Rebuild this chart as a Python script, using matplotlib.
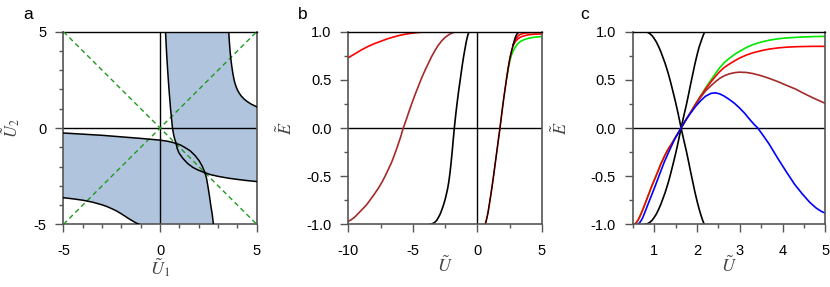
import matplotlib
matplotlib.use("Agg")
import matplotlib.pyplot as plt
from matplotlib.ticker import MultipleLocator, FormatStrFormatter

plt.rcParams['font.family'] = ['Liberation Sans', 'DejaVu Sans']
plt.rcParams['mathtext.fontset'] = 'stix'
plt.rcParams['axes.unicode_minus'] = False

# ---- panel a: boundary curves in the (U1, U2) plane ----
a_top_x = [0.28, 0.33, 0.39, 0.46, 0.54, 0.64, 0.71, 0.77, 0.83]
a_top_y = [5.0, 4.0, 3.0, 2.0, 1.0, 0.0, -0.40, -0.62, -0.80]
b_left_x = [-5.0, -4.0, -3.0, -2.0, -1.0, 0.0, 0.40, 0.62, 0.83]
b_left_y = [-0.26, -0.32, -0.38, -0.46, -0.54, -0.63, -0.69, -0.74, -0.80]
arc_up_x = [0.83, 1.05, 1.30, 1.55, 1.80, 2.02, 2.18, 2.32]
arc_up_y = [-0.80, -0.88, -1.02, -1.18, -1.42, -1.70, -1.98, -2.32]
arc_lo_x = [0.83, 0.88, 0.98, 1.18, 1.42, 1.70, 1.98, 2.32]
arc_lo_y = [-0.80, -1.05, -1.30, -1.58, -1.84, -2.05, -2.19, -2.32]
a_bot_x = [2.32, 2.40, 2.47, 2.55, 2.62, 2.70, 2.76]
a_bot_y = [-2.32, -2.60, -3.0, -3.5, -4.0, -4.5, -5.0]
b_right_x = [2.32, 2.60, 3.0, 3.5, 4.0, 4.5, 5.0]
b_right_y = [-2.32, -2.42, -2.51, -2.60, -2.67, -2.73, -2.78]
c3_x = [3.55, 3.57, 3.59, 3.62, 3.66, 3.71, 3.77, 3.84, 3.92, 4.0, 4.1, 4.2,
        4.35, 4.5, 4.62, 4.75, 4.88, 5.0]
c3_y = [5.0, 4.7, 4.4, 4.0, 3.6, 3.2, 2.8, 2.45, 2.18, 1.98, 1.80, 1.66,
        1.50, 1.38, 1.30, 1.22, 1.16, 1.10]
c4_x = [-5.0, -4.5, -4.0, -3.5, -3.0, -2.75, -2.5, -2.25, -2.0, -1.8, -1.6,
        -1.45, -1.3, -1.18, -1.08]
c4_y = [-3.62, -3.68, -3.75, -3.85, -3.99, -4.08, -4.19, -4.31, -4.46, -4.59, -4.72,
        -4.81, -4.90, -4.96, -5.0]

# ---- panel b: E vs U ----
b_red_x = [-10.0, -9.5, -9.0, -8.5, -8.0, -7.5, -7.0, -6.5, -6.0, -5.5, -5.0, -4.5, -4.0, -3.5]
b_red_y = [0.73, 0.77, 0.81, 0.845, 0.875, 0.90, 0.925, 0.945, 0.963, 0.976, 0.986, 0.993,
           0.998, 1.0]
b_brown_x = [-10.0, -9.75, -9.5, -9.25, -8.96, -8.6, -8.3, -8.0, -7.67, -7.4, -7.15, -6.9,
             -6.64, -6.4, -6.2, -5.95, -5.74, -5.5, -5.3, -5.05, -4.83, -4.55, -4.3, -4.05,
             -3.8, -3.55, -3.3, -3.05, -2.76, -2.5, -2.2, -1.9, -1.6]
b_brown_y = [-0.97, -0.95, -0.925, -0.89, -0.85, -0.80, -0.745, -0.69, -0.625, -0.565, -0.50,
             -0.43, -0.355, -0.27, -0.195, -0.095, 0.0, 0.09, 0.17, 0.265, 0.345, 0.44, 0.525,
             0.60, 0.67, 0.74, 0.80, 0.855, 0.905, 0.94, 0.97, 0.99, 1.0]
b_blk_x = [-3.67, -3.5, -3.3, -3.15, -3.02, -2.88, -2.75, -2.62, -2.5, -2.4, -2.3, -2.21,
           -2.12, -2.03, -1.95, -1.87, -1.78, -1.67, -1.56, -1.45, -1.34, -1.24, -1.15,
           -1.05, -0.95, -0.87, -0.8, -0.72, -0.64]
b_blk_y = [-1.0, -0.995, -0.98, -0.96, -0.93, -0.895, -0.85, -0.80, -0.745, -0.69, -0.63,
           -0.56, -0.47, -0.36, -0.25, -0.13, 0.0, 0.14, 0.265, 0.38, 0.485, 0.58, 0.665,
           0.75, 0.825, 0.885, 0.93, 0.97, 1.0]
# right-hand bundle, shared lower part
rb_x = [0.60, 0.65, 0.70, 0.75, 0.80, 0.85, 0.95, 1.05, 1.15, 1.24, 1.37, 1.50, 1.63,
        1.76, 1.89, 2.02, 2.15, 2.28, 2.40, 2.53, 2.66, 2.79]
rb_y = [-1.0, -0.985, -0.96, -0.93, -0.90, -0.865, -0.78, -0.695, -0.605, -0.52, -0.39,
        -0.26, -0.13, 0.0, 0.14, 0.276, 0.40, 0.52, 0.625, 0.725, 0.80, 0.865]
rb_blk_x = [2.79, 2.87, 2.95, 3.03, 3.1, 3.2, 3.3]
rb_blk_y = [0.865, 0.905, 0.94, 0.965, 0.98, 0.993, 1.0]
rb_brown_x = [2.79, 2.92, 3.05, 3.17, 3.3, 3.5, 3.7, 4.0, 4.5, 5.0]
rb_brown_y = [0.865, 0.905, 0.938, 0.957, 0.97, 0.98, 0.986, 0.99, 0.993, 0.995]
rb_red_x = [2.79, 2.92, 3.05, 3.17, 3.3, 3.5, 3.7, 3.9, 4.1, 4.5, 5.0]
rb_red_y = [0.86, 0.89, 0.912, 0.928, 0.94, 0.952, 0.96, 0.966, 0.97, 0.975, 0.977]
rb_green_x = [2.28, 2.40, 2.53, 2.66, 2.79, 2.92, 3.05, 3.18, 3.31, 3.5, 3.7, 3.9, 4.08,
              4.3, 4.5, 4.75, 5.0]
rb_green_y = [0.52, 0.615, 0.70, 0.76, 0.80, 0.835, 0.86, 0.88, 0.895, 0.91, 0.92, 0.929,
              0.935, 0.94, 0.944, 0.947, 0.95]

# ---- panel c: E vs U ----
c_down_x = [0.78, 0.84, 0.9, 0.95, 1.0, 1.05, 1.1, 1.15, 1.2, 1.25, 1.3, 1.35, 1.4, 1.45,
            1.5, 1.56, 1.63, 1.69, 1.75, 1.8, 1.85, 1.9, 1.95, 2.0, 2.05, 2.09, 2.13, 2.17]
c_down_y = [1.0, 0.995, 0.98, 0.96, 0.93, 0.895, 0.85, 0.80, 0.74, 0.68, 0.61, 0.535, 0.45,
            0.36, 0.27, 0.15, 0.0, -0.12, -0.235, -0.34, -0.45, -0.555, -0.66, -0.755, -0.84,
            -0.9, -0.955, -1.0]
c_up_x = [0.78, 0.84, 0.9, 0.95, 1.0, 1.05, 1.1, 1.15, 1.2, 1.25, 1.3, 1.35, 1.4, 1.45,
          1.5, 1.56, 1.63, 1.69, 1.75, 1.8, 1.85, 1.9, 1.95, 2.0, 2.05, 2.1, 2.14, 2.18]
c_up_y = [-1.0, -0.995, -0.98, -0.96, -0.93, -0.895, -0.85, -0.80, -0.74, -0.68, -0.61,
          -0.535, -0.45, -0.36, -0.27, -0.15, 0.0, 0.12, 0.235, 0.34, 0.45, 0.555, 0.66,
          0.755, 0.84, 0.905, 0.955, 1.0]
c_low_x = [0.54, 0.58, 0.62, 0.66, 0.70, 0.76, 0.82, 0.88, 0.93, 1.0, 1.08, 1.16, 1.25,
           1.32, 1.40, 1.50, 1.63, 1.75, 1.86, 1.97, 2.09]
c_low_y = [-1.0, -0.985, -0.96, -0.925, -0.885, -0.82, -0.75, -0.68, -0.62, -0.545, -0.46,
           -0.37, -0.285, -0.225, -0.17, -0.095, 0.0, 0.09, 0.17, 0.25, 0.335]
c_green_x = [2.09, 2.2, 2.33, 2.43, 2.53, 2.64, 2.76, 2.88, 2.99, 3.15, 3.3, 3.5, 3.69,
             3.9, 4.08, 4.3, 4.47, 4.7, 5.0]
c_green_y = [0.335, 0.415, 0.50, 0.565, 0.625, 0.68, 0.725, 0.765, 0.795, 0.835, 0.865,
             0.893, 0.912, 0.927, 0.935, 0.941, 0.945, 0.949, 0.952]
c_red_x = [2.09, 2.2, 2.33, 2.43, 2.53, 2.64, 2.76, 2.88, 2.99, 3.15, 3.3, 3.5, 3.69,
           3.9, 4.08, 4.3, 4.47, 4.7, 5.0]
c_red_y = [0.33, 0.405, 0.48, 0.535, 0.585, 0.63, 0.665, 0.698, 0.725, 0.757, 0.78, 0.803,
           0.82, 0.832, 0.839, 0.844, 0.846, 0.848, 0.848]
c_brown_x = [1.97, 2.09, 2.2, 2.33, 2.43, 2.53, 2.64, 2.76, 2.88, 2.99, 3.15, 3.3, 3.5,
             3.69, 3.9, 4.08, 4.3, 4.47, 4.7, 5.0]
c_brown_y = [0.245, 0.32, 0.385, 0.44, 0.48, 0.515, 0.543, 0.563, 0.575, 0.58, 0.577,
             0.566, 0.543, 0.515, 0.48, 0.445, 0.405, 0.365, 0.315, 0.255]
c_blue_x = [0.62, 0.66, 0.70, 0.74, 0.78, 0.85, 0.93, 1.01, 1.12, 1.24, 1.35, 1.47, 1.63,
            1.75, 1.86, 1.97, 2.09, 2.2, 2.33, 2.43, 2.53, 2.64, 2.76, 2.88, 2.99, 3.11,
            3.23, 3.33, 3.42, 3.55, 3.69, 3.88, 4.08, 4.28, 4.47, 4.63, 4.78, 4.9, 5.0]
c_blue_y = [-1.0, -0.985, -0.96, -0.925, -0.88, -0.80, -0.71, -0.62, -0.49, -0.35, -0.24,
            -0.125, 0.0, 0.09, 0.16, 0.225, 0.285, 0.33, 0.36, 0.365, 0.355, 0.33, 0.295,
            0.255, 0.21, 0.155, 0.09, 0.04, 0.0, -0.08, -0.17, -0.31, -0.45, -0.585, -0.69,
            -0.77, -0.83, -0.865, -0.885]

RED = '#ff0000'
GREEN = '#00e600'
BLUE = '#0000ff'
BROWN = '#a52a2a'
SHADE = '#b0c4de'
DASH = '#1f9a1f'
SPINE = '#555555'
LBL = '#444444'


def style(ax):
    for s in ['left', 'bottom', 'right']:
        ax.spines[s].set_color(SPINE)
        ax.spines[s].set_linewidth(1.2)
    ax.spines['top'].set_color('black')
    ax.spines['top'].set_linewidth(1.0)
    ax.tick_params(which='major', direction='out', length=6, width=1,
                   color=SPINE, pad=6, labelsize=10.5)
    ax.tick_params(which='minor', direction='out', length=3, width=1, color=SPINE)
    ax.tick_params(axis='x', which='major', pad=8)


fig = plt.figure(figsize=(8.3, 2.87), dpi=100)
axa = fig.add_axes([0.0765, 0.2185, 0.2328, 0.671])
axb = fig.add_axes([0.4197, 0.2185, 0.2330, 0.671])
axc = fig.add_axes([0.7623, 0.2185, 0.2322, 0.671])

# panel a
lim = 5
axa.set_facecolor(SHADE)
axa.fill([-lim] + a_top_x + b_left_x[::-1], [lim] + a_top_y + b_left_y[::-1],
         color='white', lw=0, zorder=1)
axa.fill(a_bot_x + [lim] + b_right_x[::-1], a_bot_y + [-lim] + b_right_y[::-1],
         color='white', lw=0, zorder=1)
axa.fill(c3_x + [lim], c3_y + [lim], color='white', lw=0, zorder=1)
axa.fill(c4_x + [-lim], c4_y + [-lim], color='white', lw=0, zorder=1)
axa.axhline(0, color='black', lw=1, zorder=2)
axa.axvline(0, color='black', lw=1, zorder=2)
axa.axline((0, 0), slope=1, color=DASH, lw=1, dashes=(3.5, 2.5), zorder=3)
axa.axline((0, 0), slope=-1, color=DASH, lw=1, dashes=(3.5, 2.5), zorder=3)
for xs, ys in [(a_top_x, a_top_y), (b_left_x, b_left_y), (arc_up_x, arc_up_y),
               (arc_lo_x, arc_lo_y), (a_bot_x, a_bot_y), (b_right_x, b_right_y),
               (c3_x, c3_y), (c4_x, c4_y)]:
    axa.plot(xs, ys, color='black', lw=1.1, zorder=4)
axa.set_xlim(-lim, lim)
axa.set_ylim(-lim, lim)
axa.xaxis.set_major_locator(MultipleLocator(5))
axa.yaxis.set_major_locator(MultipleLocator(5))
axa.xaxis.set_minor_locator(MultipleLocator(1))
axa.yaxis.set_minor_locator(MultipleLocator(1))
axa.set_xlabel(r'$\tilde{U}_1$', fontsize=13, color=LBL)
axa.set_ylabel(r'$\tilde{U}_2$', fontsize=12, color=LBL)
axa.xaxis.set_label_coords(0.5, -0.165)
axa.yaxis.set_label_coords(-0.215, 0.5)

# panel b
axb.axhline(0, color='black', lw=1, zorder=2)
axb.axvline(0, color='black', lw=1, zorder=2)
axb.plot(b_red_x, b_red_y, color=RED, lw=1.2)
axb.plot(b_brown_x, b_brown_y, color=BROWN, lw=1.2)
axb.plot(b_blk_x, b_blk_y, color='black', lw=1.2)
axb.plot(rb_green_x, rb_green_y, color=GREEN, lw=1.2)
axb.plot(rb_red_x, rb_red_y, color=RED, lw=1.2)
axb.plot(rb_brown_x, rb_brown_y, color=RED, lw=1.2)
axb.plot(rb_x, rb_y, color=RED, lw=1.2)
axb.plot(rb_x, rb_y, color='black', lw=0.9)
axb.plot(rb_blk_x, rb_blk_y, color='black', lw=1.2)
axb.set_xlim(-10, 5)
axb.set_ylim(-1, 1)
axb.xaxis.set_major_locator(MultipleLocator(5))
axb.xaxis.set_minor_locator(MultipleLocator(2.5))
axb.yaxis.set_major_locator(MultipleLocator(0.5))
axb.yaxis.set_minor_locator(MultipleLocator(0.25))
axb.yaxis.set_major_formatter(FormatStrFormatter('%.1f'))
axb.set_xlabel(r'$\tilde{U}$', fontsize=13, color=LBL)
axb.set_ylabel(r'$\tilde{E}$', fontsize=13, color=LBL)
axb.xaxis.set_label_coords(0.5, -0.165)
axb.yaxis.set_label_coords(-0.27, 0.5)

# panel c
axc.axhline(0, color='black', lw=1, zorder=2)
axc.plot(c_down_x, c_down_y, color='black', lw=1.2)
axc.plot(c_up_x, c_up_y, color='black', lw=1.2)
axc.plot(c_low_x, c_low_y, color=GREEN, lw=1.2)
axc.plot(c_green_x, c_green_y, color=GREEN, lw=1.2)
axc.plot(c_low_x, c_low_y, color=RED, lw=1.2)
axc.plot(c_red_x, c_red_y, color=RED, lw=1.2)
axc.plot(c_brown_x, c_brown_y, color=BROWN, lw=1.2)
axc.plot(c_blue_x, c_blue_y, color=BLUE, lw=1.2)
axc.set_xlim(0.5, 5)
axc.set_ylim(-1, 1)
axc.xaxis.set_major_locator(MultipleLocator(1))
axc.xaxis.set_minor_locator(MultipleLocator(0.5))
axc.yaxis.set_major_locator(MultipleLocator(0.5))
axc.yaxis.set_minor_locator(MultipleLocator(0.25))
axc.yaxis.set_major_formatter(FormatStrFormatter('%.1f'))
axc.set_xlabel(r'$\tilde{U}$', fontsize=13, color=LBL)
axc.set_ylabel(r'$\tilde{E}$', fontsize=13, color=LBL)
axc.xaxis.set_label_coords(0.5, -0.165)
axc.yaxis.set_label_coords(-0.32, 0.5)

for ax in (axa, axb, axc):
    style(ax)

fig.text(0.0277, 0.934, 'a', fontsize=12.5)
fig.text(0.359, 0.934, 'b', fontsize=12.5)
fig.text(0.699, 0.934, 'c', fontsize=12.5)

fig.savefig('out.png', dpi=100)
